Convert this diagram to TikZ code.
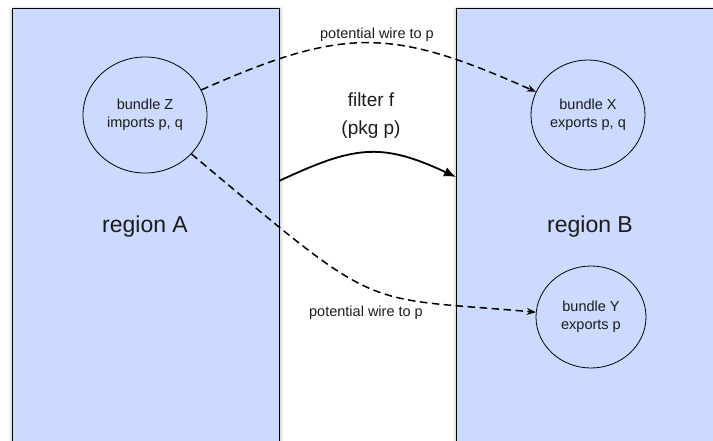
\documentclass[tikz,border=0pt]{standalone}
\usepackage{fontspec}
\setmainfont{Liberation Sans}
\usetikzlibrary{shapes.geometric, positioning, arrows.meta, shadows.blur}
\definecolor{RegionBlue}{HTML}{CBDAFE}
\definecolor{InkGray}{HTML}{1C1C1C}

\begin{document}
\begin{tikzpicture}[x=1pt, y=1pt,
    region/.style={draw, line width=1.3pt, fill=RegionBlue, anchor=north west,
        minimum height=450pt, inner sep=0pt,
        blur shadow={shadow xshift=0pt, shadow yshift=-1pt, shadow blur radius=4pt, shadow opacity=40}},
    bundle/.style={draw, ellipse, line width=0.8pt, inner sep=0pt, align=center,
        font=\fontsize{14.5}{17.5}\selectfont, text=InkGray},
    regionname/.style={font=\fontsize{23}{26}\selectfont, text=InkGray},
    wirelabel/.style={font=\fontsize{14.5}{17}\selectfont, text=InkGray},
    wire/.style={line width=1.5pt, dash pattern=on 7.5pt off 4.5pt,
        -{Stealth[length=9pt, width=7pt]}},
    filterarrow/.style={line width=1.8pt, -{Latex[length=12pt, width=10pt]}}]
    \useasboundingbox (0,0) rectangle (713,-441);
    \clip (0,0) rectangle (713,-441);

    % the two regions
    \node[region, minimum width=267pt] (regA) at (12,-8) {};
    \node[region, minimum width=290pt] (regB) at (456,-8) {};
    \node[regionname] (nameA) at (145,-227) {region A};
    \node[regionname] (nameB) at (590,-227) {region B};

    % bundles
    \node[bundle, minimum width=124pt, minimum height=116pt] (bZ) at (145,-115) {bundle Z\\imports p, q};
    \node[bundle, minimum width=114pt, minimum height=110pt] (bX) at (588,-115) {bundle X\\exports p, q};
    \node[bundle, minimum width=110pt, minimum height=102pt] (bY) at (591,-317) {bundle Y\\exports p};

    % filter between the regions
    \coordinate (fA) at (279,-181);
    \coordinate (fB) at (456,-177);
    \draw[filterarrow] (fA) to[out=25, in=155, looseness=1.2] (fB);
    \node[font=\fontsize{19}{28}\selectfont, text=InkGray, align=center] (filter) at (371,-116) {filter f\\(pkg p)};

    % potential wires
    \draw[wire] (bZ) to[out=24, in=156, looseness=1.2] (bX);
    \draw[wire] (bZ) to[out=-40, in=175, out looseness=1.69, in looseness=1.22] (bY);
    \node[wirelabel] (wireX) at (377,-35) {potential wire to p};
    \node[wirelabel] (wireY) at (366,-313) {potential wire to p};
\end{tikzpicture}
\end{document}
